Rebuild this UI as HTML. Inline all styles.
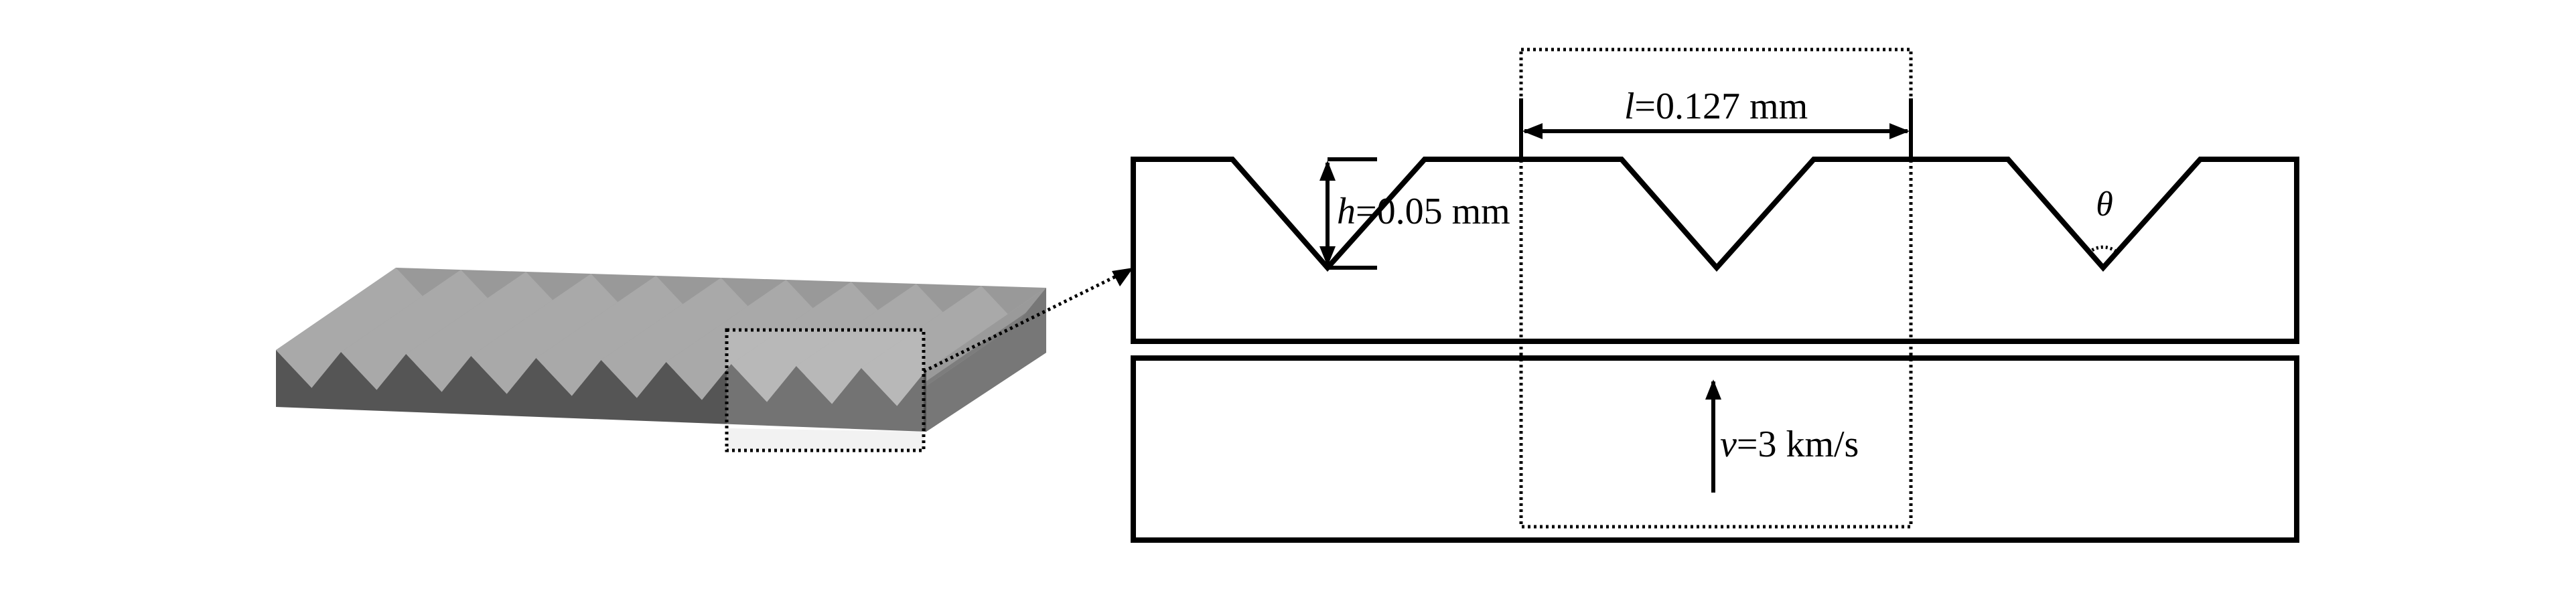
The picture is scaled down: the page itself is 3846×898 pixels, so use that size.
<!DOCTYPE html>
<html><head><meta charset="utf-8"><style>
html,body{margin:0;padding:0;background:#fff;}
svg{display:block;}
text{font-family:"Liberation Serif",serif;fill:#000;}
</style></head><body>
<svg width="3846" height="898" viewBox="0 0 3846 898" xmlns="http://www.w3.org/2000/svg">
<defs>
<marker id="ah" viewBox="0 0 10 10" refX="9" refY="5" markerWidth="5" markerHeight="5" orient="auto-start-reverse" markerUnits="strokeWidth">
<path d="M0,1 L10,5 L0,9 Z" fill="#000"/></marker>
</defs>
<g id="slab">
<polygon points="1383,553 1562,430 1562,527 1383,645" fill="#777"/>
<polygon points="412,523 591,400 1562,430 1383,553" fill="#999"/>
<g id="ridges"></g>
<polygon id="front" fill="#555"/>
</g>
<rect x="1085" y="493" width="294" height="180" fill="rgba(255,255,255,0.18)"/>
<polygon points="1085,640 1379,645 1379,673 1085,673" fill="#f2f2f2"/>
<rect x="1085" y="493" width="294" height="180" fill="none" stroke="#000" stroke-width="5" stroke-dasharray="4 5"/>
<line x1="1379" y1="555" x2="1684" y2="404" stroke="#000" stroke-width="5" stroke-dasharray="4 5"/>
<polygon points="1692,400 1660,405 1672,428" fill="#000"/>

<path d="M1692,238 H1840 L1982,400 L2127,238 H2421 L2563,400 L2708,238 H2998 L3140,400 L3285,238 H3429 V510 H1692 Z" fill="none" stroke="#000" stroke-width="8"/>
<rect x="1692" y="535" width="1737" height="272" fill="none" stroke="#000" stroke-width="8"/>
<rect x="2271" y="74" width="582" height="713" fill="none" stroke="#000" stroke-width="5" stroke-dasharray="4 5"/>
<line x1="2271" y1="147" x2="2271" y2="238" stroke="#000" stroke-width="6"/>
<line x1="2853" y1="147" x2="2853" y2="238" stroke="#000" stroke-width="6"/>
<line x1="2276" y1="196" x2="2848" y2="196" stroke="#000" stroke-width="6" marker-start="url(#ah)" marker-end="url(#ah)"/>
<text x="2562" y="177" font-size="56" text-anchor="middle"><tspan font-style="italic">l</tspan>=0.127 mm</text>
<line x1="1982" y1="238" x2="2056" y2="238" stroke="#000" stroke-width="6"/>
<line x1="1982" y1="400" x2="2056" y2="400" stroke="#000" stroke-width="6"/>
<line x1="1982" y1="243" x2="1982" y2="395" stroke="#000" stroke-width="6" marker-start="url(#ah)" marker-end="url(#ah)"/>
<text x="1996" y="334" font-size="56"><tspan font-style="italic">h</tspan>=0.05 mm</text>
<text x="3142" y="322" font-size="52" font-style="italic" text-anchor="middle">θ</text>
<path d="M3118,378 A32 32 0 0 1 3162,378" fill="none" stroke="#000" stroke-width="5" stroke-dasharray="3 4"/>
<line x1="2558" y1="736" x2="2558" y2="570" stroke="#000" stroke-width="6" marker-end="url(#ah)"/>
<text x="2568" y="682" font-size="56"><tspan font-style="italic">v</tspan>=3 km/s</text>
</svg>
<script>
(function(){
 var ns="http://www.w3.org/2000/svg";
 var fx0=412,fy0=523,fx1=1383,fy1=553,dx=179,dy=-123,depth=55;
 var n=10,per=(fx1-fx0)/n;
 function fy(x){return fy0+(fy1-fy0)*(x-fx0)/(fx1-fx0);}
 function P(a){return a.map(function(v){return v.join(',');}).join(' ');}
 var pts=[[fx0,fy0]];
 var g=document.getElementById('ridges');
 for(var i=0;i<n;i++){
  var px=fx0+i*per, tx=px+per*0.55, nx=px+per;
  var p=[px,fy(px)], t=[tx,fy(tx)+depth], q=[nx,fy(nx)];
  pts.push(t,q);
  var a=document.createElementNS(ns,'polygon');
  a.setAttribute('points',P([p,t,[t[0]+dx,t[1]+dy],[p[0]+dx,p[1]+dy]]));
  a.setAttribute('fill','#a9a9a9');g.appendChild(a);
  var b=document.createElementNS(ns,'polygon');
  b.setAttribute('points',P([t,q,[q[0]+dx,q[1]+dy],[t[0]+dx,t[1]+dy]]));
  b.setAttribute('fill','#9a9a9a');g.appendChild(b);
  var s=document.createElementNS(ns,'polygon');
  var m=[t[0]+(q[0]-t[0])*0.3,t[1]+(q[1]-t[1])*0.3];
  s.setAttribute('points',P([t,m,[m[0]+dx,m[1]+dy],[t[0]+dx,t[1]+dy]]));
  s.setAttribute('fill','#7d7d7d');g.appendChild(s);
 }
 pts.push([fx1,645],[fx0,608]);
 document.getElementById('front').setAttribute('points',P(pts));
})();
</script>
</body></html>
